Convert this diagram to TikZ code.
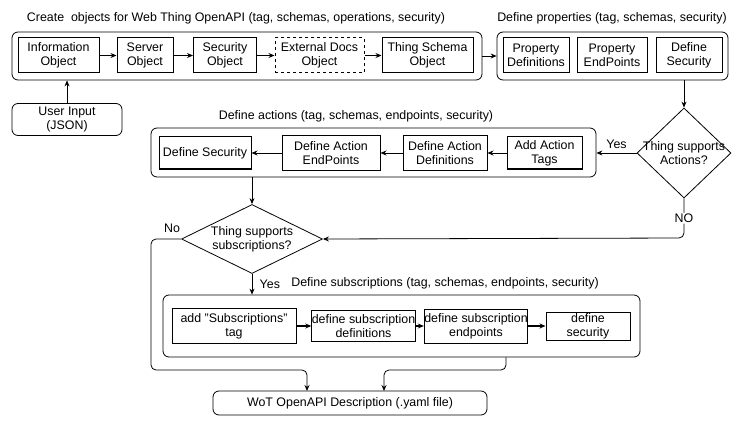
\documentclass[tikz,border=0pt]{standalone}
\usepackage{fontspec}
\setmainfont{Liberation Sans}
\usetikzlibrary{arrows.meta,shapes.geometric}
\begin{document}
\begin{tikzpicture}[x=1pt,y=-1pt,
  font=\fontsize{12.4}{14}\selectfont,
  >={Stealth[length=6pt,width=5pt]},
  objbox/.style={draw,line width=1pt,align=center,inner sep=0pt},
  groupbox/.style={draw,line width=0.8pt,rounded corners=6pt,inner sep=0pt},
  decision/.style={draw,line width=0.8pt,diamond,inner sep=0pt},
  flow/.style={->,line width=0.8pt}]
\useasboundingbox (0,0) rectangle (747,425);

\node[groupbox,minimum width=470pt,minimum height=48pt] (create) at (247,56) {};
\node (createtitle) at (236,18) {Create\ \ objects for Web Thing OpenAPI (tag, schemas, operations, security)};
\node[objbox,minimum width=81pt,minimum height=35pt] (info) at (58.5,55.5) {Information\\Object};
\node[objbox,minimum width=56pt,minimum height=35pt] (server) at (145,55.5) {Server\\Object};
\node[objbox,minimum width=63pt,minimum height=35pt] (secobj) at (225,55.5) {Security\\Object};
\node[objbox,dashed,minimum width=89pt,minimum height=35pt] (extdocs) at (319.5,55.5) {External Docs\\Object};
\node[objbox,minimum width=91pt,minimum height=35pt] (schema) at (427.5,55.5) {Thing Schema\\Object};
\node[groupbox,align=center,minimum width=110pt,minimum height=32pt] (user) at (67,119.5) {User Input\\(JSON)};

\draw[flow] (info) -- (server);
\draw[flow] (server) -- (secobj);
\draw[flow] (secobj) -- (extdocs);
\draw[flow] (extdocs) -- (schema);
\draw[flow] (user.north) -- (user.north |- create.south);

\node[groupbox,minimum width=231pt,minimum height=48pt] (props) at (612.5,56) {};
\node (propstitle) at (612,18) {Define properties (tag, schemas, security)};
\node[objbox,minimum width=66pt,minimum height=35pt] (propdef) at (536,55.5) {Property\\Definitions};
\node[objbox,minimum width=70pt,minimum height=35pt] (propend) at (612,55.5) {Property\\EndPoints};
\node[objbox,minimum width=66pt,minimum height=35pt] (propsec) at (689,55.5) {Define\\Security};
\draw[flow] (create) -- (props);

\node[decision,minimum width=94pt,minimum height=90pt,
  label={[align=center]center:Thing supports\\Actions?}] (askact) at (684,153) {};
\draw[flow] (askact.north |- props.south) -- (askact.north);

\node[groupbox,minimum width=445pt,minimum height=49pt] (actions) at (373.5,152.5) {};
\node (actionstitle) at (356,116) {Define actions (tag, schemas, endpoints, security)};
\node[objbox,minimum width=92pt,minimum height=32pt] (actsec) at (205,153) {Define Security};
\node[objbox,minimum width=98pt,minimum height=34pt] (actend) at (331,153) {Define Action\\EndPoints};
\node[objbox,minimum width=84pt,minimum height=35pt] (actdef) at (445,153) {Define Action\\Definitions};
\node[objbox,minimum width=75pt,minimum height=32pt] (acttag) at (544.5,153) {Add Action\\Tags};
\draw[flow] (askact.west) -- node[above=1pt] {Yes} (askact.west -| actions.east);
\draw[flow] (acttag) -- (actdef);
\draw[flow] (actdef) -- (actend);
\draw[flow] (actend) -- (actsec);

\node[decision,minimum width=141pt,minimum height=69pt,
  label={[align=center]center:Thing supports\\subscriptions?}] (asksub) at (252,239) {};
\draw[flow] (asksub.north |- actions.south) -- (asksub.north);
\coordinate (nocorner) at (684,238);
\draw[flow,rounded corners=5pt] (askact.south) -- node[fill=white,inner sep=1pt] {NO} (nocorner) -- (asksub.east);

\node[groupbox,minimum width=477pt,minimum height=62pt] (subs) at (401.5,326) {};
\node (substitle) at (445,283) {Define subscriptions (tag, schemas, endpoints, security)};
\node[objbox,minimum width=124pt,minimum height=35pt] (subtag) at (234,326) {add "Subscriptions"\\tag};
\node[objbox,minimum width=95pt,minimum height=31pt] (subdef) at (363.5,326) {define subscription\\definitions};
\node[objbox,minimum width=96pt,minimum height=34pt] (subend) at (476,326) {define subscription\\endpoints};
\node[objbox,minimum width=84pt,minimum height=28pt] (subsec) at (588,326) {define\\security};
\draw[flow] (asksub.south) -- node[right=4pt] {Yes} (asksub.south |- subs.north);
\draw[flow,line width=1.3pt] (subtag) -- (subdef);
\draw[flow,line width=1.3pt] (subdef) -- (subend);
\draw[flow,line width=1.3pt] (subend) -- (subsec);

\node[groupbox,minimum width=274pt,minimum height=24pt] (wot) at (350,403) {WoT OpenAPI Description (.yaml file)};
\coordinate (nodown) at (151,370);
\coordinate (subsdown) at (506,370);
\draw[flow,rounded corners=5pt] (asksub.west) -- node[above=3pt,pos=0.3] {No} (asksub.west -| nodown) -- (nodown) -- (307,370) -- (307,391);
\draw[flow,rounded corners=5pt] (subsdown |- subs.south) -- (subsdown) -- (384,370) -- (384,391);
\end{tikzpicture}
\end{document}
